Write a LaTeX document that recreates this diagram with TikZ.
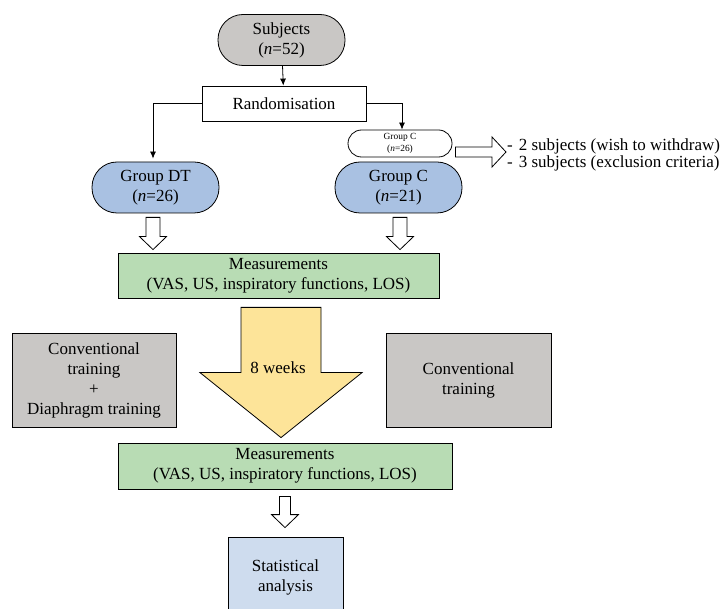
\documentclass[tikz,border=0pt]{standalone}
\usepackage{fontspec}
\setmainfont{Liberation Serif}
\usetikzlibrary{arrows.meta,calc}
\definecolor{boxgray}{RGB}{201,199,197}
\definecolor{groupblue}{RGB}{169,193,226}
\definecolor{measgreen}{RGB}{184,220,180}
\definecolor{weekyellow}{RGB}{253,228,153}
\definecolor{statblue}{RGB}{206,220,238}
\tikzset{
  base/.style={draw, line width=0.8pt, align=center, inner sep=0pt,
    font=\fontsize{17}{20}\selectfont},
  stadium/.style={base, rounded corners=25pt, minimum width=127pt, minimum height=51pt},
  flat/.style={base, minimum height=35pt},
  link/.style={line width=0.8pt, -{Latex[length=7pt,width=6pt]}},
  hollow/.style={draw, line width=0.8pt, fill=white, line join=miter},
}
% block arrow pointing down: from, to, half width of the shaft
\newcommand{\hollowdown}[3]{%
  \draw[hollow] let \p1=#1, \p2=#2 in
    (\x1-#3pt,\y1) -- (\x1+#3pt,\y1) -- (\x1+#3pt,\y2+13pt) -- (\x1+13.5pt,\y2+13pt)
    -- (\x1,\y2) -- (\x1-13.5pt,\y2+13pt) -- (\x1-#3pt,\y2+13pt) -- cycle;}
\begin{document}
\begin{tikzpicture}[x=1pt,y=1pt]
\useasboundingbox (0,0) rectangle (728,-609);

% allocation
\node[stadium, fill=boxgray] (subj) at (281.5,-40) {Subjects\\({\itshape n}=52)};
\node[flat, minimum width=164pt] (rand) at (284,-103.5) {Randomisation};
\node[base, rounded corners=13.5pt, minimum width=104pt, minimum height=27pt,
  font=\fontsize{9.4}{11.5}\selectfont] (gc0) at (400,-143.5) {Group C\\({\itshape n}=26)};
\node[stadium, fill=groupblue] (dt) at (155.5,-187.5) {Group DT\\({\itshape n}=26)};
\node[stadium, fill=groupblue] (gc) at (398.5,-187.5) {Group C\\({\itshape n}=21)};
\node[anchor=west, align=left, inner sep=0pt, font=\fontsize{17}{17}\selectfont]
  (drop) at (507,-155) {-\hspace{6pt}2 subjects (wish to withdraw)\\-\hspace{6pt}3 subjects (exclusion criteria)};

\draw[link] (subj) -- (rand);
\draw[link] (rand.west) -| ($(dt.north)+(-2.5,3)$);
\draw[link] (rand.east) -| ($(gc0.north)+(2,0)$);
\draw[hollow] let \p1=($(gc0.east)+(3,-8.5)$), \p2=($(drop.west)+(-1,0)$) in
  (\x1,\y1+5pt) -- (\x2-14pt,\y1+5pt) -- (\x2-14pt,\y1+15pt) -- (\x2,\y1)
  -- (\x2-14pt,\y1-15pt) -- (\x2-14pt,\y1-5pt) -- (\x1,\y1-5pt) -- cycle;

% measurements and training
\node[base, fill=measgreen, minimum width=321pt, minimum height=45pt] (meas1) at (278.5,-275.5)
  {Measurements\\(VAS, US, inspiratory functions, LOS)};
\hollowdown{($(dt.south)+(-2.5,-4)$)}{($(meas1.north)+(0,3)$)}{7}
\hollowdown{($(gc.south)+(1.5,-4)$)}{($(meas1.north)+(0,3)$)}{7}

\node[base, fill=boxgray, minimum width=164pt, minimum height=94pt] (conv1) at (94,-380)
  {Conventional\\training\\+\\Diaphragm training};
\node[base, fill=boxgray, minimum width=165pt, minimum height=94pt] (conv2) at (468.5,-380)
  {Conventional\\training};

\node[base, fill=measgreen, minimum width=334pt, minimum height=46pt] (meas2) at (285,-466)
  {Measurements\\(VAS, US, inspiratory functions, LOS)};
\draw[hollow, fill=weekyellow] let \p1=($(meas1.south)+(2.5,-9)$), \p2=($(meas2.north)+(-4,5)$) in
  (\x1-40pt,\y1) -- (\x1+40pt,\y1) -- (\x1+40pt,\y2+65pt) -- (\x1+81pt,\y2+65pt)
  -- (\x1,\y2) -- (\x1-81pt,\y2+65pt) -- (\x1-40pt,\y2+65pt) -- cycle;
\node[font=\fontsize{17}{20}\selectfont] (wk) at (278,-368) {8 weeks};

% analysis
\node[base, fill=statblue, minimum width=115pt, minimum height=80pt] (stat) at (285.5,-577)
  {Statistical\\analysis};
\hollowdown{($(meas2.south)+(0,-7)$)}{($(stat.north)+(0,9)$)}{5.5}
\end{tikzpicture}
\end{document}
